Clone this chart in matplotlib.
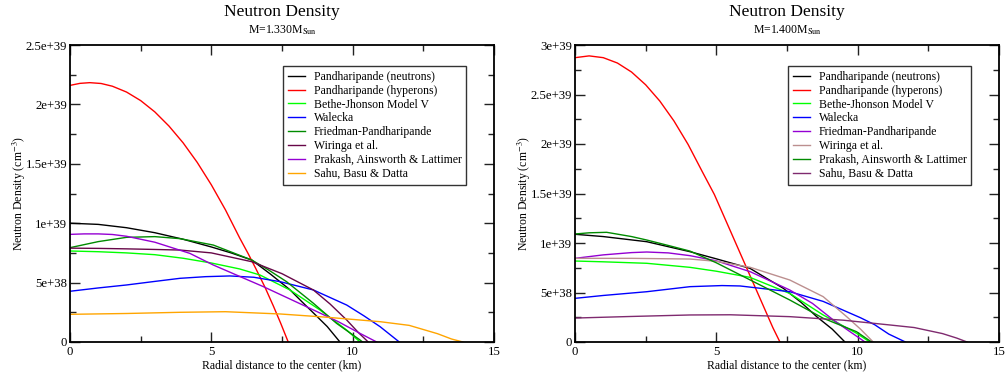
import matplotlib
matplotlib.use("Agg")
import matplotlib.pyplot as plt

plt.rcParams["font.family"] = ["Liberation Serif", "DejaVu Serif"]
plt.rcParams["mathtext.fontset"] = "stix"

# Model names in the legend
labels = [
    "Pandharipande (neutrons)",
    "Pandharipande (hyperons)",
    "Bethe-Jhonson Model V",
    "Walecka",
    "Friedman-Pandharipande",
    "Wiringa et al.",
    "Prakash, Ainsworth & Lattimer",
    "Sahu, Basu & Datta",
]

# ---- M = 1.330 Msun : radius (km) and neutron density (1e39 cm^-3) ----
r_a_pn = [0, 1, 2, 3, 4, 5, 5.7, 6.43, 7.1, 7.78, 8.2, 8.61, 9.1, 9.55]
n_a_pn = [1.0, 0.99, 0.962, 0.92, 0.865, 0.80, 0.75, 0.69, 0.57, 0.44, 0.34, 0.245, 0.13, 0]
r_a_ph = [0, 0.35, 0.7, 1.1, 1.5, 2.0, 2.5, 3.0, 3.5, 4.0, 4.5, 5.0, 5.5, 6.0, 6.3, 6.58, 6.9, 7.2, 7.45, 7.72]
n_a_ph = [2.16, 2.177, 2.183, 2.176, 2.153, 2.104, 2.032, 1.937, 1.818, 1.677, 1.512, 1.323,
          1.112, 0.877, 0.745, 0.615, 0.46, 0.30, 0.16, 0]
r_a_bj = [0, 1, 2, 3, 4, 5, 6, 6.72, 7.78, 8.84, 9.79, 10.26]
n_a_bj = [0.766, 0.76, 0.75, 0.735, 0.705, 0.665, 0.615, 0.564, 0.438, 0.27, 0.10, 0]
r_a_wa = [0, 1, 2, 3, 3.89, 4.8, 5.66, 6.5, 7.43, 8.61, 9.79, 10.4, 10.97, 11.65]
n_a_wa = [0.427, 0.455, 0.48, 0.51, 0.536, 0.55, 0.556, 0.545, 0.508, 0.438, 0.311, 0.22, 0.129, 0]
r_a_fp = [0, 1, 2, 3, 3.89, 5.07, 6.43, 7.0, 7.66, 8.61, 9.43, 10.26, 10.35]
n_a_fp = [0.794, 0.845, 0.881, 0.887, 0.87, 0.816, 0.69, 0.61, 0.508, 0.326, 0.157, 0.017, 0]
r_a_wi = [0, 1, 2, 3, 3.89, 5, 6.43, 7.5, 8.61, 9.2, 9.79, 10.2, 10.55]
n_a_wi = [0.79, 0.788, 0.784, 0.779, 0.774, 0.75, 0.676, 0.575, 0.438, 0.32, 0.185, 0.08, 0]
r_a_pa = [0, 0.5, 1, 1.5, 2, 3, 4.24, 5.07, 6.84, 8.61, 9.5, 10.2, 10.85]
n_a_pa = [0.906, 0.91, 0.91, 0.905, 0.89, 0.84, 0.746, 0.648, 0.466, 0.27, 0.17, 0.08, 0]
r_a_sb = [0, 2, 3.89, 5.5, 7.43, 9, 10.97, 12, 12.5, 13.0, 13.5, 13.9]
n_a_sb = [0.233, 0.24, 0.25, 0.255, 0.236, 0.21, 0.171, 0.14, 0.105, 0.07, 0.025, 0]

# ---- M = 1.400 Msun ----
r_b_pn = [0, 1, 2.54, 4.07, 5, 6.19, 7.37, 8, 8.55, 9.1, 9.55]
n_b_pn = [1.088, 1.065, 1.013, 0.912, 0.84, 0.744, 0.542, 0.40, 0.256, 0.13, 0]
r_b_ph = [0, 0.5, 1.0, 1.5, 2.0, 2.5, 3.0, 3.5, 4.0, 4.5, 4.93, 5.5, 6.0, 6.5, 7.0, 7.25]
n_b_ph = [2.872, 2.89, 2.872, 2.818, 2.727, 2.598, 2.434, 2.233, 1.996, 1.722, 1.49,
          1.12, 0.795, 0.47, 0.145, 0]
r_b_bj = [0, 1, 2.54, 4.07, 5, 6.19, 7.6, 8.78, 9.96, 10.43]
n_b_bj = [0.818, 0.81, 0.795, 0.754, 0.715, 0.653, 0.49, 0.273, 0.088, 0]
r_b_wa = [0, 1, 2.54, 4.07, 5.2, 5.84, 7.6, 8.78, 9.5, 10.1, 10.6, 11.1, 11.69]
n_b_wa = [0.441, 0.47, 0.508, 0.559, 0.57, 0.566, 0.508, 0.41, 0.32, 0.245, 0.175, 0.08, 0]
r_b_fp = [0, 1, 2, 2.54, 3.3, 4.07, 5, 6.2, 7.6, 8.4, 9.14, 9.7, 10.26]
n_b_fp = [0.845, 0.88, 0.903, 0.909, 0.9, 0.872, 0.82, 0.71, 0.525, 0.39, 0.222, 0.11, 0]
r_b_wi = [0, 2, 4.07, 5, 6.19, 7.6, 8.78, 9.61, 10.1, 10.55]
n_b_wi = [0.845, 0.845, 0.838, 0.815, 0.755, 0.626, 0.458, 0.256, 0.13, 0]
r_b_pa = [0, 0.5, 1.12, 2, 2.54, 3.3, 4.07, 5, 6.43, 7.6, 8.78, 9.96, 10.49]
n_b_pa = [1.091, 1.103, 1.108, 1.065, 1.03, 0.975, 0.918, 0.80, 0.593, 0.424, 0.24, 0.104, 0]
r_b_sb = [0, 2, 4.07, 5.5, 7.6, 9.5, 11.14, 12, 13, 13.5, 13.87]
n_b_sb = [0.242, 0.258, 0.273, 0.275, 0.256, 0.22, 0.172, 0.146, 0.085, 0.04, 0]

colors_a = ["#000000", "#ff0000", "#00ff00", "#0000ff", "#008b00", "#670748", "#9400d3", "#ffa500"]
colors_b = ["#000000", "#ff0000", "#00ff00", "#0000ff", "#9400d3", "#bc8f8f", "#008b00", "#7f2a6f"]

ytick_vals_a = [0, 0.5, 1.0, 1.5, 2.0, 2.5]
ytick_lbls_a = ["0", "5e+38", "1e+39", "1.5e+39", "2e+39", "2.5e+39"]
ytick_vals_b = [0, 0.5, 1.0, 1.5, 2.0, 2.5, 3.0]
ytick_lbls_b = ["0", "5e+38", "1e+39", "1.5e+39", "2e+39", "2.5e+39", "3e+39"]
xtick_vals = [0, 5, 10, 15]

panels = [
    dict(
        mass="M=1.330M$_{\\mathrm{Sun}}$",
        series=[(r_a_pn, n_a_pn), (r_a_ph, n_a_ph), (r_a_bj, n_a_bj), (r_a_wa, n_a_wa),
                (r_a_fp, n_a_fp), (r_a_wi, n_a_wi), (r_a_pa, n_a_pa), (r_a_sb, n_a_sb)],
        colors=colors_a, ymax=2.5, yt=ytick_vals_a, yl=ytick_lbls_a,
        rect=[70 / 1006, 33 / 375, 424 / 1006, 297 / 375],
    ),
    dict(
        mass="M=1.400M$_{\\mathrm{Sun}}$",
        series=[(r_b_pn, n_b_pn), (r_b_ph, n_b_ph), (r_b_bj, n_b_bj), (r_b_wa, n_b_wa),
                (r_b_fp, n_b_fp), (r_b_wi, n_b_wi), (r_b_pa, n_b_pa), (r_b_sb, n_b_sb)],
        colors=colors_b, ymax=3.0, yt=ytick_vals_b, yl=ytick_lbls_b,
        rect=[575 / 1006, 33 / 375, 424 / 1006, 297 / 375],
    ),
]

fig = plt.figure(figsize=(10.06, 3.75), dpi=100)

for p in panels:
    ax = fig.add_axes(p["rect"])
    for (r, n), c, lab in zip(p["series"], p["colors"], labels):
        ax.plot(r, n, color=c, lw=1.0, label=lab)
    ax.set_xlim(0, 15)
    ax.set_ylim(0, p["ymax"])
    ax.set_xticks(xtick_vals)
    ax.set_xticks([2.5, 7.5, 12.5], minor=True)
    ax.set_yticks(p["yt"])
    ax.set_yticklabels(p["yl"])
    ax.set_yticks([v + 0.25 for v in p["yt"][:-1]], minor=True)
    ax.tick_params(which="both", direction="in", top=True, right=True,
                   labelsize=9.2, width=1.0, color="#222222")
    ax.tick_params(axis="y", pad=2)
    ax.tick_params(axis="x", pad=3)
    ax.tick_params(which="major", length=7)
    ax.tick_params(which="minor", length=4)
    for s in ax.spines.values():
        s.set_linewidth(1.3)
    ax.set_xlabel("Radial distance to the center (km)", fontsize=8.5, labelpad=1)
    ax.set_ylabel("Neutron Density (cm$^{-3}$)", fontsize=8.5)
    ax.yaxis.set_label_coords(-0.1, 0.5)
    ax.text(0.5, 1.11, "Neutron Density", transform=ax.transAxes,
            ha="center", va="center", fontsize=12.5)
    ax.text(0.5, 1.05, p["mass"], transform=ax.transAxes,
            ha="center", va="center", fontsize=8.5)
    leg = ax.legend(loc="upper left", bbox_to_anchor=(0.502, 0.929), fontsize=8.5,
                    frameon=True, fancybox=False, edgecolor="black",
                    handlelength=1.5, handletextpad=0.7, labelspacing=0.16,
                    borderpad=0.4, borderaxespad=0)
    leg.get_frame().set_linewidth(1.0)

fig.savefig("out.png", dpi=100)
